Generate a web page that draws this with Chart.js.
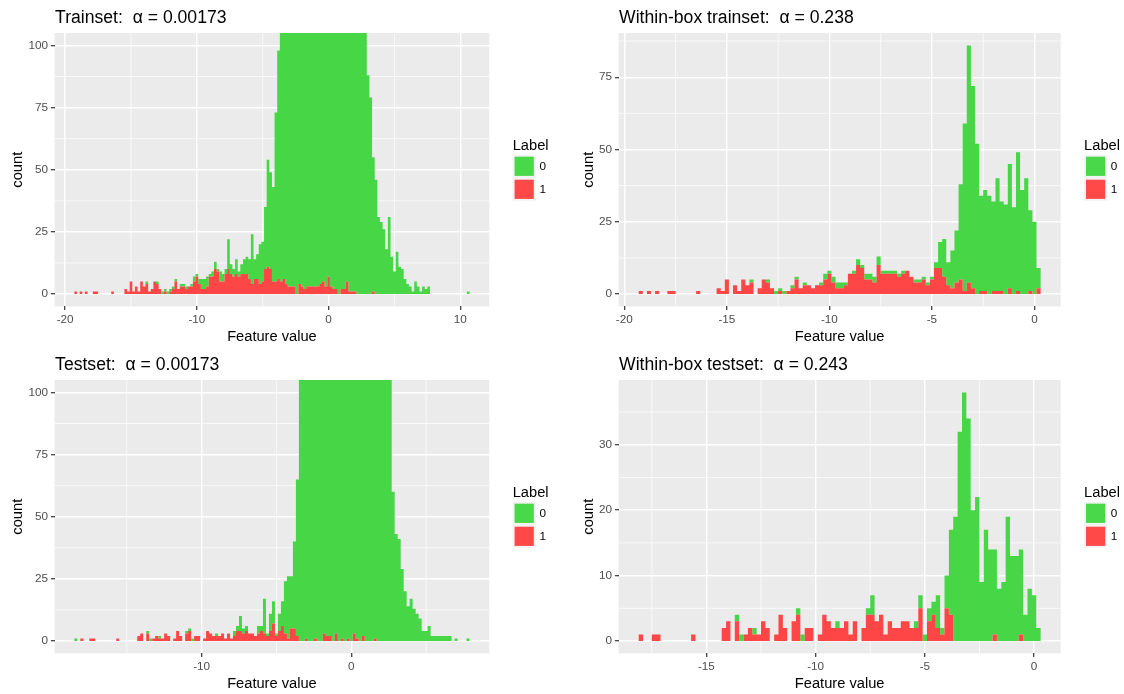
<!DOCTYPE html>
<html>
<head>
<meta charset="utf-8">
<script src="https://cdn.jsdelivr.net/npm/chart.js@4.4.1/dist/chart.umd.min.js"></script>
<style>
  html, body { margin: 0; padding: 0; background: #ffffff; }
  #wrap { position: relative; width: 1124px; height: 694px; }
  #wrap canvas { position: absolute; }
</style>
</head>
<body>
<div id="wrap">
  <canvas id="trainset" width="562" height="347" style="left:0;top:0"></canvas>
  <canvas id="withinTrain" width="562" height="347" style="left:562px;top:0"></canvas>
  <canvas id="testset" width="562" height="347" style="left:0;top:347px"></canvas>
  <canvas id="withinTest" width="562" height="347" style="left:562px;top:347px"></canvas>
</div>
<script>
// Histogram bins: width 0.2, centres on multiples of 0.2
const binWidth = 0.2;

// ---- Trainset ----
const trainFirstBin = -19.2;
const trainLabel1 = [
  1,0,1,0,1,0,0,1,1,0, 0,0,0,0,1,0,0,0,0,2, 1,5,1,3,1,5,3,4,1,2,
  5,4,2,0,1,0,1,2,5,2, 3,3,2,3,3,5,7,4,2,2, 3,7,7,10,9,5,5,8,10,8,
  7,8,7,8,8,8,6,4,6,6, 4,5,10,11,10,5,5,6,5,6, 4,3,3,3,0,4,3,2,3,3,
  3,3,3,4,5,3,7,3,2,2, 0,2,2,5,1,1,1,0,0,0, 0,0,0,1,0,0,0,0,0,0,
  0,0,0,0,0,0,0,0,0,0, 0,0,0,0,0,0,0,0,0,0, 0,0,0,0,0,0,0,0,0,0
];
const trainLabel0 = [
  0,0,0,0,0,0,0,0,0,0, 0,0,0,0,0,0,0,0,0,0, 0,0,0,0,0,0,0,1,0,0,
  0,1,0,1,1,1,1,1,1,0, 1,1,1,0,1,2,1,2,4,4, 4,1,2,3,1,4,3,2,12,4,
  3,6,2,4,6,7,8,20,8,10, 16,16,25,43,39,38,68,92,113,130,
  154,177,202,225,252,270,289,306,319,330, 337,341,343,339,333,327,311,301,286,268,
  250,228,208,185,171,155,141,130,120,112, 106,88,79,54,46,31,29,26,18,31,
  15,9,17,11,10,6,4,3,1,5, 3,1,3,2,3,0,0,0,0,0, 0,0,0,0,0,0,0,0,0,1
];

// ---- Within-box trainset ----
const withinTrainFirstBin = -19.2;
const withinTrainLabel1 = [
  1,0,1,0,1,0,0,1,1,0, 0,0,0,0,1,0,0,0,0,2, 1,5,0,3,1,5,3,4,0,2,
  5,4,2,0,1,0,1,2,5,2, 3,3,2,3,3,5,7,4,2,2, 3,7,7,10,9,5,5,4,10,7,
  7,7,7,6,7,8,6,4,4,5, 3,5,9,9,6,3,2,4,5,1, 4,2,0,1,1,0,1,1,1,0,
  2,0,1,0,0,1,0,2
];
const withinTrainLabel0 = [
  0,0,0,0,0,0,0,0,0,0, 0,0,0,0,0,0,0,0,0,0, 0,0,0,0,0,0,0,1,0,0,
  0,1,0,1,1,1,0,1,1,0, 1,0,0,0,1,2,1,2,2,2, 1,0,1,2,1,2,2,2,3,1,
  1,1,1,1,1,0,0,1,1,1, 1,1,2,9,13,8,13,18,33,58, 82,70,52,33,35,34,31,39,31,31,
  43,30,48,36,40,28,25,7
];

// ---- Testset ----
const testFirstBin = -18.4;
const testLabel1 = [
  0,0,1,0,0,1,1,0,0,0, 0,0,0,0,1,0,0,0,0,0, 0,2,3,0,3,0,1,2,1,1,
  3,2,0,1,4,2,0,3,4,0, 2,2,0,1,4,3,2,2,2,3, 1,3,1,2,4,4,3,4,3,3,
  2,3,4,3,2,4,7,2,4,6, 3,1,5,5,2,0,0,1,0,0, 1,0,0,3,2,2,0,3,0,1,
  0,1,0,3,1,0,2,0,0,0, 1,0,0,0,0,0,0,0,0,0, 0,0,0,0,0,0,0,0,0,0,
  0,0,0,0,0,0,0,0,0,0, 0,0
];
const testLabel0 = [
  1,0,0,0,0,0,0,0,0,0, 0,0,0,0,0,0,0,0,0,0, 0,0,0,0,1,1,0,0,1,0,
  0,0,0,0,0,0,0,1,1,1, 0,0,0,0,0,0,0,1,0,0, 0,0,0,2,2,6,2,2,0,0,
  0,3,2,14,1,7,9,1,7,10, 21,25,21,35,63,112,128,147,170,195,
  219,246,270,289,308,322,334,337,342,337, 330,317,302,281,263,244,222,204,184,166,
  149,136,124,116,110,106,60,43,41,29, 20,14,17,13,11,9,4,4,6,2,
  2,2,2,2,2,2,0,1,0,0, 0,1
];

// ---- Within-box testset ----
const withinTestFirstBin = -18.0;
const withinTestLabel1 = [
  1,0,0,1,1,0,0,0,0,0, 0,0,1,0,0,0,0,0,0,2, 3,0,3,0,1,2,1,1,3,2,
  0,1,4,2,0,3,4,0,2,2, 0,1,4,3,2,2,2,3,1,3, 0,2,4,4,3,4,1,3,2,2,
  3,3,2,2,5,0,3,4,2,1, 5,4,0,0,0,0,0,0,0,0, 0,1,0,0,0,0,0,1,0,0,
  0,0
];
const withinTestLabel0 = [
  0,0,0,0,0,0,0,0,0,0, 0,0,0,0,0,0,0,0,0,0, 0,0,1,1,0,0,1,0,0,0,
  0,0,0,0,0,0,1,1,0,0, 0,0,0,0,0,1,0,0,0,0, 0,0,1,3,0,0,0,0,0,0,
  0,0,0,1,2,1,2,2,5,1, 5,13,19,32,38,34,20,22,9,17, 14,13,8,9,19,13,13,13,4,8,
  7,2
];

// ---- Axis breaks ----
const trainXTicks = [-20, -10, 0, 10];
const trainXMinor = [-15, -5, 5];
const testXTicks = [-10, 0];
const testXMinor = [-15, -5, 5];
const withinXTicks = [-20, -15, -10, -5, 0];
const withinXMinor = [-17.5, -12.5, -7.5, -2.5];
const withinTestXTicks = [-15, -10, -5, 0];
const countTicks = [0, 25, 50, 75, 100];
const countMinor = [12.5, 37.5, 62.5, 87.5];
const withinTestCountTicks = [0, 10, 20, 30];
const withinTestCountMinor = [5, 15, 25, 35];

const FONT = '"Liberation Sans", Arial, Helvetica, sans-serif';
const FILL0 = 'rgb(70,214,70)';
const FILL1 = 'rgb(255,70,70)';
const KEY0 = 'rgb(73,216,73)';
const KEY1 = 'rgb(255,73,73)';
const CANVAS_W = 562, CANVAS_H = 347;

const round1 = v => Math.round(v * 10) / 10;

// Histogram outline as a step series: one point per bin centre, padded with an
// empty bin on each side so the steps rise and fall on the bin edges.
function stepPoints(first, counts) {
  const pts = [{ x: round1(first - binWidth), y: 0 }];
  counts.forEach((c, i) => pts.push({ x: round1(first + i * binWidth), y: c }));
  pts.push({ x: round1(first + counts.length * binWidth), y: 0 });
  return pts;
}

// ggplot-like decorations: grey panel, minor grid, titles and legend
function ggDecor(p) {
  return {
    id: 'ggDecor',
    beforeDraw(chart) {
      const { ctx, chartArea: a } = chart;
      ctx.save();
      ctx.fillStyle = '#EBEBEB';
      ctx.fillRect(a.left, a.top, a.right - a.left, a.bottom - a.top);
      ctx.restore();
    },
    beforeDatasetsDraw(chart) {
      const { ctx, chartArea: a, scales: { x, y } } = chart;
      ctx.save();
      ctx.strokeStyle = '#FFFFFF';
      ctx.lineWidth = 0.7;
      ctx.beginPath();
      p.xMinor.forEach(v => {
        const px = x.getPixelForValue(v);
        ctx.moveTo(px, a.top); ctx.lineTo(px, a.bottom);
      });
      p.yMinor.forEach(v => {
        const py = y.getPixelForValue(v);
        ctx.moveTo(a.left, py); ctx.lineTo(a.right, py);
      });
      ctx.stroke();
      ctx.restore();
    },
    afterDraw(chart) {
      const { ctx, chartArea: a } = chart;
      ctx.save();
      ctx.fillStyle = '#000000';
      ctx.textBaseline = 'alphabetic';
      ctx.textAlign = 'left';
      ctx.font = '17.6px ' + FONT;
      ctx.fillText(p.title, a.left + 0.5, 23.3);

      ctx.font = '14.67px ' + FONT;
      ctx.textAlign = 'center';
      ctx.fillText('Feature value', (a.left + a.right) / 2, 340.7);
      ctx.save();
      ctx.translate(p.yTitleX, (a.top + a.bottom) / 2);
      ctx.rotate(-Math.PI / 2);
      ctx.fillText('count', 0, 0);
      ctx.restore();

      // legend
      const lx = a.right + 23.4, ky = 154.8, ks = 23, inset = 1.9;
      ctx.textAlign = 'left';
      ctx.fillText('Label', lx, 149.5);
      ctx.fillStyle = '#F2F2F2';
      ctx.fillRect(lx, ky, ks, ks * 2);
      const items = [chart.data.datasets[1], chart.data.datasets[0]];
      const keyColours = [KEY0, KEY1];
      items.forEach((ds, i) => {
        ctx.fillStyle = keyColours[i];
        ctx.fillRect(lx + inset, ky + i * ks + inset, ks - 2 * inset, ks - 2 * inset);
      });
      ctx.fillStyle = '#000000';
      ctx.font = '11.73px ' + FONT;
      ctx.textBaseline = 'middle';
      items.forEach((ds, i) => {
        ctx.fillText(ds.label, lx + ks + 3.7, ky + i * ks + ks / 2 + 0.5);
      });
      ctx.restore();
    }
  };
}

function axis(min, max, ticks, fit, stacked) {
  return {
    type: 'linear',
    min: min,
    max: max,
    bounds: 'data',
    offset: false,
    stacked: stacked,
    grid: {
      offset: false,
      color: '#FFFFFF',
      lineWidth: 1.4,
      drawTicks: true,
      tickLength: 3.7,
      tickColor: '#333333',
      tickWidth: 1.2
    },
    border: { display: false },
    ticks: {
      color: '#4D4D4D',
      font: { family: FONT, size: 11.73 },
      padding: 2.9,
      autoSkip: false,
      maxRotation: 0,
      callback: v => String(v)
    },
    afterBuildTicks: s => { s.ticks = ticks.map(v => ({ value: v })); },
    afterFit: fit
  };
}

function histSeries(label, points, colour, fill) {
  return {
    label: label,
    data: points,
    stepped: 'middle',
    fill: fill,
    backgroundColor: colour,
    borderColor: 'rgba(0,0,0,0)',
    borderWidth: 0,
    pointRadius: 0,
    pointHoverRadius: 0
  };
}

function drawPanel(id, p) {
  const a = p.area;
  new Chart(document.getElementById(id), {
    type: 'line',
    data: {
      datasets: [
        histSeries('1', stepPoints(p.firstBin, p.label1), FILL1, 'origin'),
        histSeries('0', stepPoints(p.firstBin, p.label0), FILL0, '-1')
      ]
    },
    options: {
      responsive: false,
      animation: false,
      devicePixelRatio: 1,
      events: [],
      layout: { padding: { top: a.top, right: CANVAS_W - a.right, bottom: 0, left: 0 } },
      plugins: { legend: { display: false }, tooltip: { enabled: false }, title: { display: false } },
      scales: {
        x: axis(p.xRange[0], p.xRange[1], p.xTicks, s => { s.height = CANVAS_H - a.bottom; }, false),
        y: axis(p.yRange[0], p.yRange[1], p.yTicks, s => { s.width = a.left; }, true)
      }
    },
    plugins: [ggDecor(p)]
  });
}

const leftArea = { left: 54.6, right: 489.3, top: 33, bottom: 306.4 };
const rightArea = { left: 56.6, right: 498.7, top: 33, bottom: 306.4 };

drawPanel('trainset', {
  title: 'Trainset:  \u03b1 = 0.00173',
  firstBin: trainFirstBin, label1: trainLabel1, label0: trainLabel0,
  xRange: [-20.8, 12.2], yRange: [-5, 105],
  xTicks: trainXTicks, xMinor: trainXMinor, yTicks: countTicks, yMinor: countMinor,
  area: leftArea, yTitleX: 21.5
});
drawPanel('withinTrain', {
  title: 'Within-box trainset:  \u03b1 = 0.238',
  firstBin: withinTrainFirstBin, label1: withinTrainLabel1, label0: withinTrainLabel0,
  xRange: [-20.28, 1.28], yRange: [-4.3, 90.3],
  xTicks: withinXTicks, xMinor: withinXMinor, yTicks: [0, 25, 50, 75], yMinor: countMinor,
  area: rightArea, yTitleX: 31
});
drawPanel('testset', {
  title: 'Testset:  \u03b1 = 0.00173',
  firstBin: testFirstBin, label1: testLabel1, label0: testLabel0,
  xRange: [-19.82, 9.22], yRange: [-5, 105],
  xTicks: testXTicks, xMinor: testXMinor, yTicks: countTicks, yMinor: countMinor,
  area: leftArea, yTitleX: 21.5
});
drawPanel('withinTest', {
  title: 'Within-box testset:  \u03b1 = 0.243',
  firstBin: withinTestFirstBin, label1: withinTestLabel1, label0: withinTestLabel0,
  xRange: [-19.02, 1.22], yRange: [-1.9, 39.9],
  xTicks: withinTestXTicks, xMinor: withinXMinor, yTicks: withinTestCountTicks, yMinor: withinTestCountMinor,
  area: rightArea, yTitleX: 31
});
</script>
</body>
</html>
